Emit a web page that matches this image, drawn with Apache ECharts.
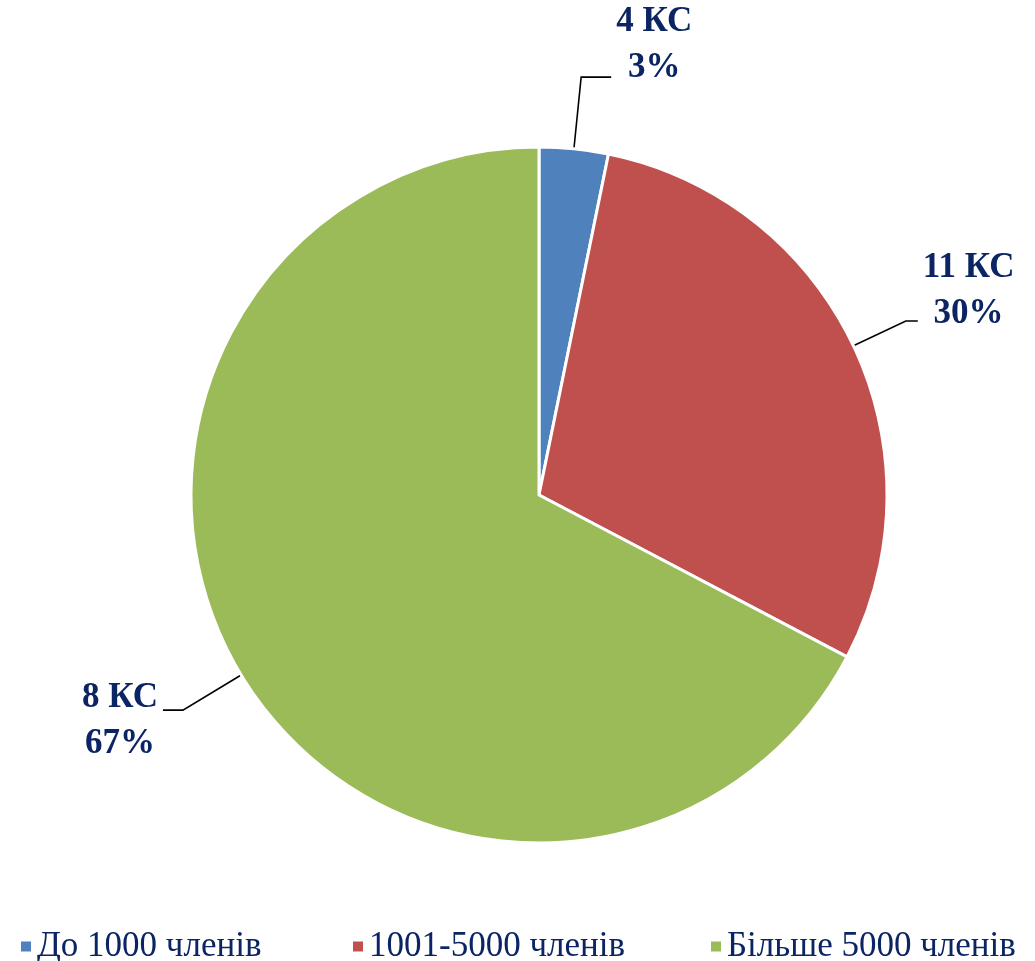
<!DOCTYPE html>
<html>
<head>
<meta charset="utf-8">
<script src="https://cdn.jsdelivr.net/npm/echarts@6/dist/echarts.min.js"></script>
<style>html,body{margin:0;padding:0;background:#fff}#c{width:1035px;height:961px}</style>
</head>
<body>
<div id="c"></div>
<script>
const categories = ['До 1000 членів', '1001-5000 членів', 'Більше 5000 членів'];
const values = [3.2, 29.5, 67.3];
const counts = ['4 КС', '11 КС', '8 КС'];
const pctLabels = ['3%', '30%', '67%'];
const colors = ['#4F81BD', '#C0504D', '#9BBB59'];

const labelTweaks = [
  {len: 72, len2: 30, pad: [0, 0, 64, 0]},
  {len: 58, len2: 12, pad: [0, 0, 60, 0]},
  {len: 68, len2: 20, pad: [22, 0, 0, 0]}
];

const navy = '#0B2463';
const fontFam = '"Liberation Serif", "DejaVu Serif", serif';

const data = categories.map((c, i) => ({
  name: c,
  value: values[i],
  itemStyle: {color: colors[i]},
  label: {padding: labelTweaks[i].pad},
  labelLine: {length: labelTweaks[i].len, length2: labelTweaks[i].len2}
}));

const legendLefts = [14, 346, 704];
const legends = categories.map((c, i) => ({
  data: [c],
  left: legendLefts[i],
  top: 924,
  orient: 'horizontal',
  icon: 'rect',
  itemWidth: 12,
  itemHeight: 12,
  itemGap: 8,
  textStyle: {fontFamily: fontFam, fontSize: 35, color: navy}
}));

const chart = echarts.init(document.getElementById('c'), null, {renderer: 'canvas'});
chart.setOption({
  animation: false,
  backgroundColor: '#fff',
  legend: legends,
  series: [{
    type: 'pie',
    center: [539, 495],
    radius: [0, 348],
    startAngle: 90,
    clockwise: true,
    avoidLabelOverlap: false,
    data: data,
    itemStyle: {borderColor: '#fff', borderWidth: 3},
    label: {
      show: true,
      position: 'outside',
      formatter: p => '{a|' + counts[p.dataIndex] + '}\n{a|' + pctLabels[p.dataIndex] + '}',
      rich: {
        a: {fontFamily: fontFam, fontWeight: 'bold', fontSize: 35, color: navy, lineHeight: 46, align: 'center'}
      }
    },
    labelLine: {show: true, lineStyle: {color: '#000', width: 1.6}, smooth: false}
  }]
});
</script>
</body>
</html>
